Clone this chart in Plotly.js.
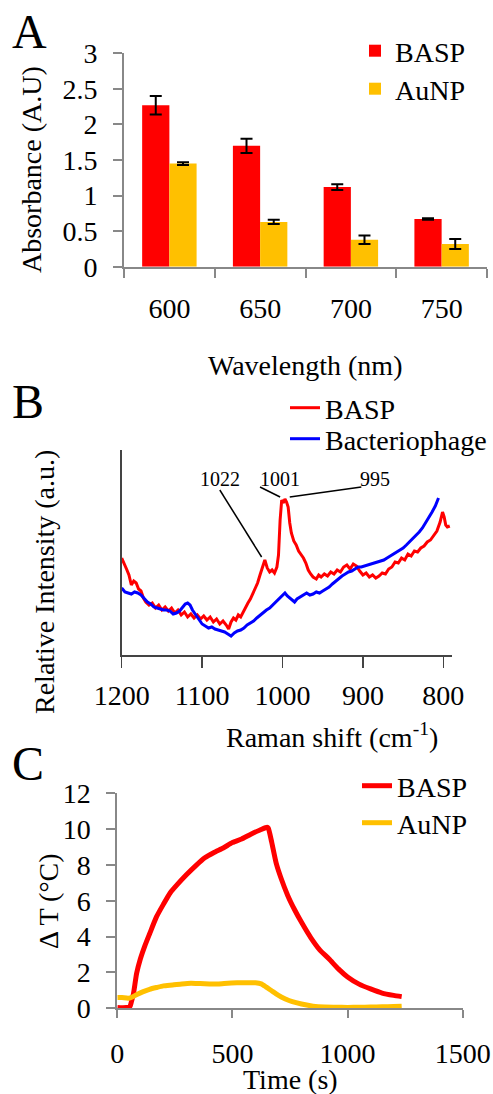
<!DOCTYPE html>
<html>
<head>
<meta charset="utf-8">
<script src="https://cdn.plot.ly/plotly-3.0.1.min.js"></script>
<style>html,body{margin:0;padding:0;background:#fff;}#chart{width:493px;height:1094px;}</style>
</head>
<body>
<div id="chart"></div>
<script>
// ---------- Panel A: absorbance ----------
const wavelengths = ['600', '650', '700', '750'];
const absBASP = [2.27, 1.70, 1.12, 0.67];
const absBASPErr = [0.13, 0.10, 0.04, 0.01];
const absAuNP = [1.45, 0.63, 0.38, 0.32];
const absAuNPErr = [0.02, 0.03, 0.06, 0.07];

// ---------- Panel B: Raman spectra ----------
const ramanBASPx = [1200,1197,1194,1191,1188,1185,1182,1179,1176,1173,1170,1166,1162,1158,1154,1150,1146,1142,1138,1134,1130,1126,1122,1118,1114,1110,1106,1102,1098,1094,1090,1086,1082,1078,1074,1070,1067,1064,1061,1058,1055,1052,1049,1046,1043,1040,1037,1034,1031,1028,1025,1022,1019,1016,1013,1010,1007,1005,1003,1001,999,997,995,993,991,989,986,983,980,977,974,971,968,965,962,958,955,952,948,944,940,936,932,928,924,920,916,912,908,904,900,896,892,888,884,880,876,872,868,864,860,856,852,848,844,840,836,832,828,824,820,816,812,808,804,801,799,797,795,792];
const ramanBASPy = [97,92,86,80,70,74,72,66,64,57,53,50,52,47,50,45,48,44,47,42,45,40,43,38,41,37,40,36,39,35,38,33,36,31,34,30,26,33,37,35,40,38,43,48,52,56,62,66,72,80,88,95,87,83,85,82,88,100,135,155,152,156,153,148,132,122,114,110,104,101,97,92,85,81,78,76,80,78,81,79,83,81,85,83,88,90,86,91,89,84,80,82,78,80,77,79,82,81,86,88,93,92,97,95,101,99,104,103,107,109,113,115,119,124,133,143,138,130,128,129];
const ramanPhageX = [1200,1196,1192,1188,1184,1180,1176,1172,1168,1164,1160,1156,1152,1148,1144,1140,1136,1132,1128,1124,1121,1118,1115,1112,1108,1104,1100,1096,1092,1088,1084,1080,1076,1072,1068,1064,1060,1056,1052,1048,1044,1040,1036,1032,1028,1024,1020,1016,1012,1008,1004,1000,997,994,991,988,985,982,978,974,970,966,962,958,954,950,946,942,938,934,930,926,922,918,914,910,906,902,898,894,890,886,882,878,874,870,866,862,858,854,850,846,842,838,834,830,826,822,818,814,810,806];
const ramanPhageY = [67,63,62,61,63,62,60,56,53,51,48,47,46,45,45,44,41,42,44,48,51,52,50,45,40,35,31,29,27,28,26,25,24,23,21,19,22,24,25,27,30,32,34,37,40,42,45,47,50,53,56,60,62,59,57,55,53,56,58,60,62,60,61,63,62,64,66,68,71,74,77,79,81,83,84,86,88,88,89,90,91,92,93,94,95,97,99,101,103,105,107,110,113,116,119,123,127,132,137,143,149,157];
const peakLabels = ['1022', '1001', '995'];

// ---------- Panel C: photothermal heating ----------
const timeBASP = [0,20,40,55,62,70,84,100,120,140,170,200,230,260,300,340,380,420,460,500,540,580,620,650,656,670,690,710,740,770,800,840,880,920,960,1000,1050,1100,1150,1200,1235];
const dTBASP = [0.05,0.03,0.04,0.1,0.4,0.8,1.95,2.75,3.5,4.15,5.1,5.8,6.45,6.9,7.45,7.95,8.4,8.7,8.95,9.25,9.45,9.72,9.95,10.1,10.05,9.3,8.1,7.3,6.3,5.5,4.8,3.95,3.25,2.75,2.2,1.75,1.35,1.08,0.85,0.72,0.65];
const timeAuNP = [0,20,48,70,90,110,140,170,200,240,280,320,360,400,440,480,520,560,600,625,645,670,700,730,760,800,850,900,950,1000,1050,1100,1150,1200,1235];
const dTAuNP = [0.6,0.6,0.56,0.66,0.8,0.92,1.06,1.16,1.25,1.3,1.36,1.4,1.38,1.36,1.36,1.4,1.42,1.43,1.42,1.36,1.2,0.98,0.72,0.52,0.37,0.24,0.12,0.07,0.06,0.05,0.06,0.07,0.08,0.1,0.12];

const RED = '#FF0000', GOLD = '#FFC000', BLUE = '#0000FF', GRAY = '#888888';
const FONT = '"Liberation Serif"';
const W = 493, H = 1094;
const px = v => v / W;
const py = v => 1 - v / H;

const traces = [
  {type: 'bar', x: wavelengths, y: absBASP, name: 'BASP', marker: {color: RED},
   error_y: {type: 'data', array: absBASPErr, visible: true, color: '#000', thickness: 2, width: 6},
   xaxis: 'x', yaxis: 'y', legend: 'legend'},
  {type: 'bar', x: wavelengths, y: absAuNP, name: 'AuNP', marker: {color: GOLD},
   error_y: {type: 'data', array: absAuNPErr, visible: true, color: '#000', thickness: 2, width: 6},
   xaxis: 'x', yaxis: 'y', legend: 'legend4'},
  {type: 'scatter', mode: 'lines', x: ramanBASPx, y: ramanBASPy, name: 'BASP',
   line: {color: RED, width: 3}, xaxis: 'x2', yaxis: 'y2', legend: 'legend2'},
  {type: 'scatter', mode: 'lines', x: ramanPhageX, y: ramanPhageY, name: 'Bacteriophage',
   line: {color: BLUE, width: 3}, xaxis: 'x2', yaxis: 'y2', legend: 'legend5'},
  {type: 'scatter', mode: 'lines', x: timeBASP, y: dTBASP, name: 'BASP',
   line: {color: RED, width: 5, shape: 'spline', smoothing: 0.5}, xaxis: 'x3', yaxis: 'y3', legend: 'legend3'},
  {type: 'scatter', mode: 'lines', x: timeAuNP, y: dTAuNP, name: 'AuNP',
   line: {color: GOLD, width: 5, shape: 'spline', smoothing: 0.5}, xaxis: 'x3', yaxis: 'y3', legend: 'legend6'}
];

const tickFont = {family: FONT, size: 28, color: '#000'};
const legFont = {family: FONT, size: 28, color: '#000'};

function ann(text, x, y, size, angle, extra) {
  return Object.assign({text: text, x: px(x), y: py(y), xref: 'paper', yref: 'paper',
    xanchor: 'center', yanchor: 'middle', showarrow: false, textangle: angle || 0,
    font: {family: FONT, size: size, color: '#000'}}, extra || {});
}

const annotations = [
  ann('A', 29, 31, 48),
  ann('B', 28, 401, 48),
  ann('C', 28, 763, 48),
  ann('Wavelength (nm)', 305, 365, 28),
  ann('Absorbance (A.U)', 32, 170, 28, -90),
  ann('Relative Intensity (a.u.)', 45, 582, 28, -90),
  ann('Raman shift (cm<sup>-1</sup>)', 332, 735, 28),
  ann('Δ T (°C)', 48, 901, 28, -90),
  ann('Time (s)', 290, 1079, 28),
  {text: peakLabels[0], x: 1078, y: 176, xref: 'x2', yref: 'y2', showarrow: false, font: {family: FONT, size: 20, color: '#000'}},
  {text: peakLabels[1], x: 1003, y: 176, xref: 'x2', yref: 'y2', showarrow: false, font: {family: FONT, size: 20, color: '#000'}},
  {text: peakLabels[2], x: 885, y: 176, xref: 'x2', yref: 'y2', showarrow: false, font: {family: FONT, size: 20, color: '#000'}}
];

const shapes = [
  {type: 'line', xref: 'x2', yref: 'y2', x0: 1078, y0: 165, x1: 1026, y1: 98, line: {color: '#000', width: 1.5}},
  {type: 'line', xref: 'x2', yref: 'y2', x0: 1028, y0: 168, x1: 1003, y1: 158, line: {color: '#000', width: 1.5}},
  {type: 'line', xref: 'x2', yref: 'y2', x0: 902, y0: 168, x1: 991, y1: 158, line: {color: '#000', width: 1.5}}
];

function leg(xText, yCenter) {
  return {x: px(xText - 40), y: py(yCenter), xanchor: 'left', yanchor: 'middle',
    bgcolor: 'rgba(0,0,0,0)', font: legFont, tracegroupgap: 0, borderwidth: 0};
}

const layout = {
  width: W, height: H,
  margin: {l: 0, r: 0, t: 0, b: 0},
  paper_bgcolor: '#fff', plot_bgcolor: '#fff',
  font: {family: FONT, size: 28, color: '#000'},
  barmode: 'group', bargap: 0.4, bargroupgap: 0,
  showlegend: true,
  xaxis: {domain: [px(124), px(487)], anchor: 'y', type: 'category', tickson: 'boundaries',
    ticks: 'outside', ticklen: 9, tickwidth: 2, tickcolor: GRAY, showline: true, linecolor: GRAY, linewidth: 2,
    showgrid: false, zeroline: false, tickfont: tickFont, ticklabelstandoff: 16},
  yaxis: {domain: [py(266.7), py(53.3)], anchor: 'x', range: [0, 3], dtick: 0.5,
    ticks: 'outside', ticklen: 9, tickwidth: 2, tickcolor: GRAY, showline: true, linecolor: GRAY, linewidth: 2,
    showgrid: false, zeroline: false, tickfont: tickFont, ticklabelstandoff: 10},
  xaxis2: {domain: [px(121.7), px(451.7)], anchor: 'y2', range: [1200, 789.6], tickvals: [1200, 1100, 1000, 900, 800],
    ticks: 'outside', ticklen: 11, tickwidth: 1.5, tickcolor: '#444', showline: true, linecolor: '#444', linewidth: 1.5,
    showgrid: false, zeroline: false, tickfont: tickFont, ticklabelstandoff: 4},
  yaxis2: {domain: [py(655), py(450)], anchor: 'x2', range: [0, 205],
    ticks: '', showticklabels: false, showline: true, linecolor: '#444', linewidth: 1.5,
    showgrid: false, zeroline: false},
  xaxis3: {domain: [px(117.3), px(462.7)], anchor: 'y3', range: [0, 1500], dtick: 500,
    ticks: 'outside', ticklen: 8, tickwidth: 2, tickcolor: GRAY, showline: true, linecolor: GRAY, linewidth: 2,
    showgrid: false, zeroline: false, tickfont: tickFont, ticklabelstandoff: 11},
  yaxis3: {domain: [py(1008.3), py(793.3)], anchor: 'x3', range: [0, 12], dtick: 2,
    ticks: 'outside', ticklen: 9, tickwidth: 2, tickcolor: GRAY, showline: true, linecolor: GRAY, linewidth: 2,
    showgrid: false, zeroline: false, tickfont: tickFont, ticklabelstandoff: 10},
  legend: leg(395, 51),
  legend4: leg(395, 89),
  legend2: leg(325, 408),
  legend5: leg(325, 439),
  legend3: leg(397, 786),
  legend6: leg(397, 823),
  annotations: annotations,
  shapes: shapes
};

Plotly.newPlot('chart', traces, layout, {staticPlot: true, displayModeBar: false});
</script>
</body>
</html>
